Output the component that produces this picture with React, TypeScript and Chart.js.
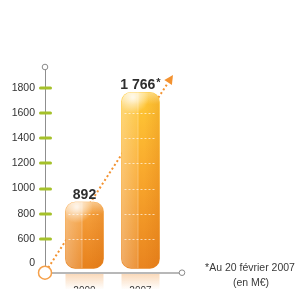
import React, { useEffect, useRef } from "react";
import { Chart, registerables } from "chart.js";

Chart.register(...registerables);

// ---- data ----
const categories = ["2000", "2007"];
const revenue = [892, 1766];
const valueLabels = ["892", "1 766"];
const valueMarks = ["", "*"];
const yTickValues = [600, 800, 1000, 1200, 1400, 1600, 1800];
const zeroTickLabel = "0";
const footnoteLines = ["*Au 20 février 2007", "(en M€)"];

// ---- broken-axis configuration (the axis jumps from 0 to 600) ----
const Y_MIN = 330;
const Y_MAX = 1967;
const ZERO_TICK_AT = 410; // where the "0" label sits on the broken axis
const BAR_BASE = 365;

// ---- styles ----
const FONT = '"Liberation Sans", Arial, sans-serif';
const barTopColors = ["#f8a743", "#ffca36"];
const barMidColors = ["#f09430", "#f9a92d"];
const barBottomColors = ["#e7811c", "#e9841f"];
const ORANGE = "#f39230";

function barBox(el: any) {
  const p = el.getProps(["x", "y", "base", "width"], true);
  return { left: p.x - p.width / 2, right: p.x + p.width / 2, top: p.y, bottom: p.base, w: p.width, x: p.x };
}

const decorPlugin = {
  id: "decor",
  beforeDraw(chart: any) {
    const ctx = chart.ctx;
    const area = chart.chartArea;
    const meta = chart.getDatasetMeta(0);
    ctx.save();
    meta.data.forEach((el: any) => {
      const b = barBox(el);
      const y0 = area.bottom + 1;
      const g = ctx.createLinearGradient(0, y0, 0, y0 + 16);
      g.addColorStop(0, "rgba(243,160,80,0.4)");
      g.addColorStop(1, "rgba(243,160,80,0)");
      ctx.fillStyle = g;
      ctx.beginPath();
      ctx.roundRect(b.left, y0, b.w, 30, [0, 0, 10, 10]);
      ctx.fill();
    });
    ctx.restore();
  },
  beforeDatasetsDraw(chart: any) {
    const ctx = chart.ctx;
    const a = chart.chartArea;
    const x0 = a.left, y0 = a.bottom;
    const x1 = a.right - 9, y1 = a.top + 8;
    const ang = Math.atan2(y1 - y0, x1 - x0);
    const headLen = 9, headW = 4.5;
    const bx = x1 - headLen * Math.cos(ang), by = y1 - headLen * Math.sin(ang);
    ctx.save();
    ctx.strokeStyle = ORANGE;
    ctx.lineWidth = 2;
    ctx.setLineDash([2, 2.5]);
    ctx.beginPath();
    ctx.moveTo(x0 + 6 * Math.cos(ang), y0 + 6 * Math.sin(ang));
    ctx.lineTo(bx, by);
    ctx.stroke();
    ctx.setLineDash([]);
    ctx.fillStyle = ORANGE;
    ctx.beginPath();
    ctx.moveTo(x1, y1);
    ctx.lineTo(bx + headW * Math.sin(ang), by - headW * Math.cos(ang));
    ctx.lineTo(bx - headW * Math.sin(ang), by + headW * Math.cos(ang));
    ctx.closePath();
    ctx.fill();
    ctx.restore();
  },
  afterDatasetsDraw(chart: any) {
    const ctx = chart.ctx;
    const yScale = chart.scales.y;
    const meta = chart.getDatasetMeta(0);
    meta.data.forEach((el: any, i: number) => {
      const b = barBox(el);
      ctx.save();
      ctx.beginPath();
      ctx.roundRect(b.left, b.top, b.w, b.bottom - b.top, 10);
      ctx.clip();
      const split = b.left + b.w * 0.42;
      const gl = ctx.createLinearGradient(b.left, 0, split, 0);
      gl.addColorStop(0, "rgba(255,255,255,0.32)");
      gl.addColorStop(1, "rgba(255,255,255,0.12)");
      ctx.fillStyle = gl;
      ctx.fillRect(b.left, b.top, split - b.left, b.bottom - b.top);
      const gr = ctx.createLinearGradient(b.left + b.w * 0.6, 0, b.right, 0);
      gr.addColorStop(0, "rgba(200,90,0,0)");
      gr.addColorStop(1, "rgba(200,90,0,0.18)");
      ctx.fillStyle = gr;
      ctx.fillRect(b.left + b.w * 0.6, b.top, b.w * 0.4, b.bottom - b.top);
      ctx.strokeStyle = "rgba(255,255,255,0.35)";
      ctx.lineWidth = 1;
      ctx.beginPath();
      ctx.moveTo(split + 0.5, b.top);
      ctx.lineTo(split + 0.5, b.bottom);
      ctx.stroke();
      // soft top gloss
      const gt2 = ctx.createLinearGradient(0, b.top, 0, b.top + 12);
      gt2.addColorStop(0, "rgba(255,255,255,0.4)");
      gt2.addColorStop(1, "rgba(255,255,255,0)");
      ctx.fillStyle = gt2;
      ctx.fillRect(b.left, b.top, b.w, 12);
      const rg = ctx.createRadialGradient(b.left + b.w * 0.3, b.top + 5, 1, b.left + b.w * 0.3, b.top + 5, b.w * 0.42);
      rg.addColorStop(0, "rgba(255,255,255,0.8)");
      rg.addColorStop(1, "rgba(255,255,255,0)");
      ctx.fillStyle = rg;
      ctx.fillRect(b.left, b.top, b.w, 22);
      // dashed level lines
      ctx.strokeStyle = "rgba(255,255,255,0.65)";
      ctx.setLineDash([2, 2]);
      yTickValues.forEach((v) => {
        if (v < revenue[i] - 40) {
          const y = Math.round(yScale.getPixelForValue(v)) + 0.5;
          ctx.beginPath();
          ctx.moveTo(b.left + 3, y);
          ctx.lineTo(b.right - 3, y);
          ctx.stroke();
        }
      });
      ctx.restore();

      ctx.save();
      ctx.fillStyle = "#2e2e2e";
      ctx.textBaseline = "middle";
      ctx.font = `bold 14px ${FONT}`;
      const main = valueLabels[i];
      const mark = valueMarks[i];
      const mw = ctx.measureText(main).width;
      ctx.font = `bold 11px ${FONT}`;
      const sw = mark ? ctx.measureText(mark).width + 1 : 0;
      const startX = b.x - (mw + sw) / 2;
      const ly = b.top - 7;
      ctx.font = `bold 14px ${FONT}`;
      ctx.textAlign = "left";
      ctx.fillText(main, startX, ly);
      if (mark) {
        ctx.font = `bold 11px ${FONT}`;
        ctx.fillText(mark, startX + mw + 1, ly - 2);
      }
      ctx.restore();
    });
  },
  afterDraw(chart: any) {
    const ctx = chart.ctx;
    const a = chart.chartArea;
    const yScale = chart.scales.y;
    ctx.save();
    ctx.strokeStyle = "#a5c12a";
    ctx.lineWidth = 3;
    ctx.lineCap = "round";
    yTickValues.forEach((v) => {
      const y = Math.round(yScale.getPixelForValue(v));
      ctx.beginPath();
      ctx.moveTo(a.left - 4.5, y);
      ctx.lineTo(a.left + 5.5, y);
      ctx.stroke();
    });
    ctx.lineCap = "butt";
    ctx.lineWidth = 1;
    ctx.strokeStyle = "#8a8a8a";
    ctx.fillStyle = "#ffffff";
    [[a.left, a.top], [a.right, a.bottom]].forEach(([x, y]) => {
      ctx.beginPath();
      ctx.arc(x, y, 2.8, 0, Math.PI * 2);
      ctx.fill();
      ctx.stroke();
    });
    ctx.strokeStyle = "#f5a04a";
    ctx.lineWidth = 1.5;
    ctx.beginPath();
    ctx.arc(a.left, a.bottom, 6.5, 0, Math.PI * 2);
    ctx.fill();
    ctx.stroke();
    ctx.fillStyle = "#3a3a3a";
    ctx.font = `10.5px ${FONT}`;
    ctx.textAlign = "center";
    ctx.textBaseline = "middle";
    const cx = chart.width - 48;
    ctx.fillText(footnoteLines[0], cx, a.bottom - 4.5);
    ctx.fillText(footnoteLines[1], cx + 1, a.bottom + 10);
    ctx.restore();
  },
};

export default function App() {
  const ref = useRef<HTMLCanvasElement>(null);

  useEffect(() => {
    if (!ref.current) return;
    const chart = new Chart(ref.current, {
      type: "bar",
      data: {
        datasets: [
          {
            data: revenue.map((v, i) => ({ x: i, y: v })),
            base: BAR_BASE,
            barThickness: 38,
            borderRadius: 10,
            borderSkipped: false,
            backgroundColor: (c: any) => {
              const chart = c.chart;
              const i = c.dataIndex;
              if (!chart.chartArea || i === undefined) return barBottomColors[0];
              const ys = chart.scales.y;
              const top = ys.getPixelForValue(revenue[i]);
              const bottom = ys.getPixelForValue(BAR_BASE);
              const g = chart.ctx.createLinearGradient(0, top, 0, bottom);
              g.addColorStop(0, barTopColors[i]);
              g.addColorStop(0.45, barMidColors[i]);
              g.addColorStop(1, barBottomColors[i]);
              return g;
            },
          } as any,
        ],
      },
      options: {
        animation: false,
        responsive: false,
        devicePixelRatio: 1,
        layout: { padding: { left: 0, right: 116, top: 67, bottom: 0 } },
        plugins: { legend: { display: false }, tooltip: { enabled: false } },
        scales: {
          x: {
            type: "linear",
            offset: false,
            min: -0.705,
            max: 1.741,
            grid: { display: false, drawTicks: false, offset: false },
            border: { display: true, color: "#b8b8b8", width: 2 },
            afterBuildTicks: (s: any) => {
              s.ticks = categories.map((_, i) => ({ value: i }));
            },
            afterFit: (s: any) => {
              s.height = 16;
            },
            ticks: {
              padding: 13,
              autoSkip: false,
              maxRotation: 0,
              color: "#333",
              font: { family: FONT, size: 10 },
              callback: (v: any) => categories[v] ?? "",
            },
          },
          y: {
            type: "linear",
            min: Y_MIN,
            max: Y_MAX,
            grid: { display: false, drawTicks: false },
            border: { display: true, color: "#8f8f8f", width: 1 },
            afterBuildTicks: (s: any) => {
              s.ticks = [{ value: ZERO_TICK_AT }, ...yTickValues.map((v) => ({ value: v }))];
            },
            afterFit: (s: any) => {
              s.width = 45;
            },
            ticks: {
              padding: 10,
              color: "#333",
              font: { family: FONT, size: 10.5 },
              callback: (v: any) => (v === ZERO_TICK_AT ? zeroTickLabel : String(v)),
            },
          },
        },
      },
      plugins: [decorPlugin],
    });
    return () => chart.destroy();
  }, []);

  return (
    <div style={{ position: "absolute", left: 0, top: 0, width: 298, height: 289 }}>
      <canvas ref={ref} width={298} height={289} />
    </div>
  );
}
